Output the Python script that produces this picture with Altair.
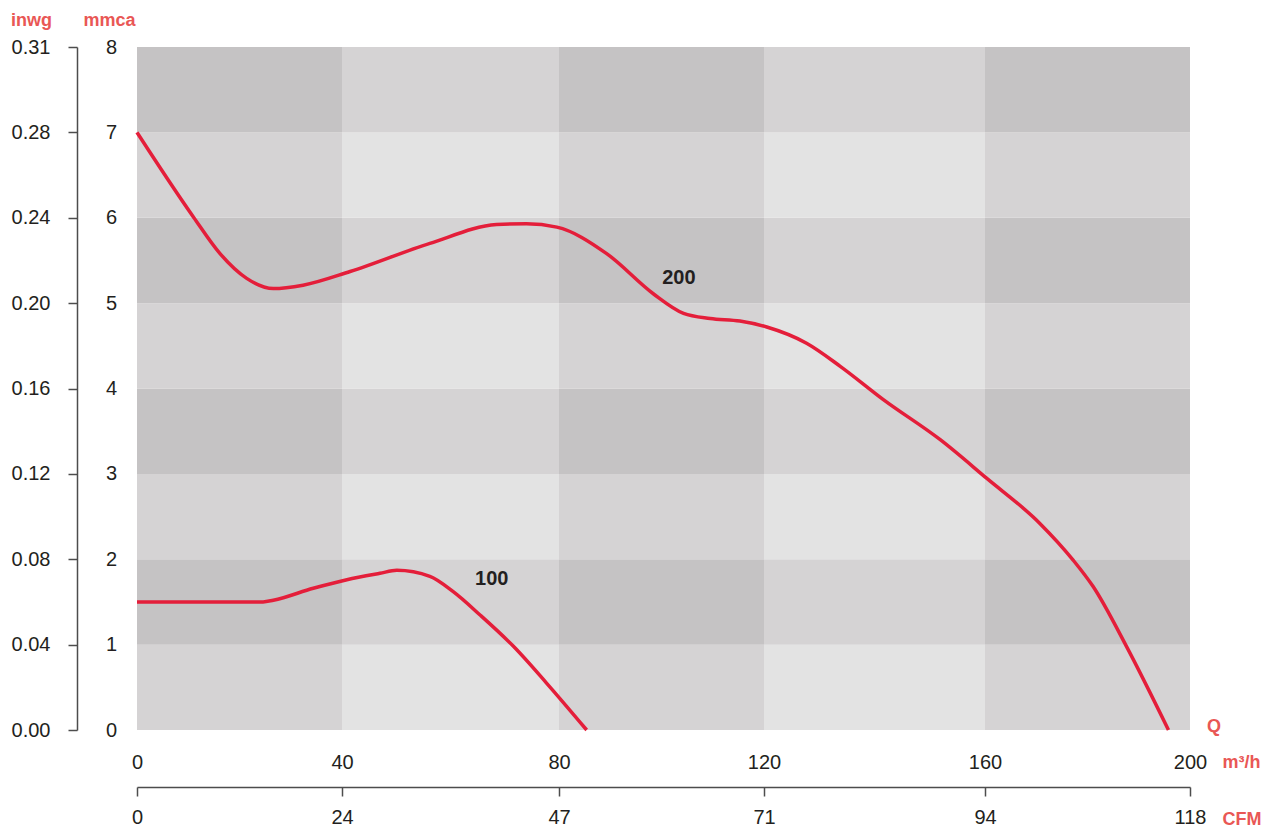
import altair as alt
import pandas as pd

# ---- data ----
q_ticks = [0, 40, 80, 120, 160, 200]            # m³/h
cfm_labels = ["0", "24", "47", "71", "94", "118"]  # CFM equivalents
p_ticks = [0, 1, 2, 3, 4, 5, 6, 7, 8]             # mmca
inwg_labels = ["0.00", "0.04", "0.08", "0.12", "0.16", "0.20", "0.24", "0.28", "0.31"]

# curve "200"
q200 = [0, 11.0, 16.2, 21.4, 26.6, 32.4, 41.5, 56.2, 68.5, 74.0, 79.6, 89.3, 98.4,
        104.3, 109.5, 115.3, 120.5, 127.7, 133.8, 141.6, 151.9, 160.3, 170.7, 177.2,
        181.1, 187.6, 195.8]
p200 = [7.00, 6.01, 5.58, 5.29, 5.17, 5.21, 5.37, 5.70, 5.92, 5.93, 5.89, 5.58, 5.11,
        4.88, 4.82, 4.79, 4.72, 4.53, 4.26, 3.87, 3.40, 2.95, 2.42, 1.99,
        1.68, 0.98, 0.0]
# curve "100"
q100 = [0, 24.6, 26.6, 34.4, 40.9, 47.0, 50.1, 56.2, 60.5, 65.4, 71.6, 77.7, 85.4]
p100 = [1.50, 1.50, 1.52, 1.66, 1.76, 1.835, 1.87, 1.80, 1.62, 1.35, 0.98, 0.55, 0.0]

# curve labels
lab_text = ["200", "100"]
lab_q = [103.4, 67.6]
lab_p = [5.29, 1.77]

shade_names = ["light", "medium", "dark"]
shade_colors = ["#e3e3e3", "#d5d3d4", "#c5c3c4"]

# ---- tables ----
cells = []
for r in range(len(p_ticks) - 1):
    for c in range(len(q_ticks) - 1):
        level = (r % 2) + (1 if c % 2 == 0 else 0)
        cells.append(dict(q0=q_ticks[c], q1=q_ticks[c + 1],
                          p0=p_ticks[r], p1=p_ticks[r + 1],
                          shade=shade_names[level]))
cells_df = pd.DataFrame(cells)

curve_df = pd.concat([
    pd.DataFrame(dict(q=q200, p=p200, series="200", order=range(len(q200)))),
    pd.DataFrame(dict(q=q100, p=p100, series="100", order=range(len(q100)))),
])
lab_df = pd.DataFrame(dict(q=lab_q, p=lab_p, label=lab_text))

# ---- styling ----
FONT = "Liberation Sans"
INK = "#231f20"
RED_TXT = "#e95755"
RED_LINE = "#e41e3a"
AX = "#4d4d4d"

x_scale = alt.Scale(domain=q_ticks, range=[0, 205, 422, 627, 848, 1053], nice=False)
y_scale = alt.Scale(domain=[0, 8], nice=False)

title_style = dict(titleFont=FONT, titleFontSize=18, titleFontWeight="bold",
                   titleColor=RED_TXT, titleAngle=0, titleBaseline="alphabetic")
label_style = dict(labelFont=FONT, labelFontSize=20, labelColor=INK, grid=False)

cfm_expr = "[" + ",".join("'%s'" % s for s in cfm_labels) + "][indexof([" + \
    ",".join(str(v) for v in q_ticks) + "], datum.value)]"
inwg_expr = "[" + ",".join("'%s'" % s for s in inwg_labels) + "][datum.value]"

axis_mmca = alt.Axis(orient="left", values=p_ticks, labelAlign="center", labelPadding=26,
                     ticks=False, tickSize=0, domain=False, title="mmca",
                     titleAlign="center", titleX=-28, titleY=-22,
                     **label_style, **title_style)
axis_inwg = alt.Axis(orient="left", offset=60, values=p_ticks, labelExpr=inwg_expr,
                     labelAlign="right", labelPadding=18, tickSize=9, tickWidth=1.5,
                     tickColor=AX, domainColor=AX, domainWidth=1.5, title="inwg",
                     titleAlign="center", titleX=-46, titleY=-22,
                     **label_style, **title_style)
axis_m3h = alt.Axis(orient="bottom", values=q_ticks, labelFlush=False, labelBaseline="middle",
                    labelPadding=32, ticks=False, tickSize=0, domain=False, title="m³/h",
                    titleAlign="left", titleX=1085, titleY=37,
                    **label_style, **title_style)
axis_cfm = alt.Axis(orient="bottom", offset=57, values=q_ticks, labelExpr=cfm_expr,
                    labelFlush=False, labelBaseline="middle", labelPadding=21,
                    tickSize=9, tickWidth=1.5, tickColor=AX, domainColor=AX, domainWidth=1.5,
                    title="CFM", titleAlign="left", titleX=1085, titleY=37,
                    **label_style, **title_style)
axis_q = alt.Axis(orient="right", labels=False, ticks=False, domain=False, grid=False,
                  title="Q", titleAlign="center", titleX=23.5, titleY=684, **title_style)

bg = alt.Chart(cells_df).mark_rect(strokeWidth=0).encode(
    x=alt.X("q0:Q", scale=x_scale, axis=axis_m3h),
    x2="q1:Q",
    y=alt.Y("p0:Q", scale=y_scale, axis=axis_mmca),
    y2="p1:Q",
    color=alt.Color("shade:N", scale=alt.Scale(domain=shade_names, range=shade_colors),
                    legend=None),
)

curves = alt.Chart(curve_df).mark_line(color=RED_LINE, strokeWidth=3.5,
                                        interpolate="monotone").encode(
    x=alt.X("q:Q", scale=x_scale, axis=axis_cfm),
    y=alt.Y("p:Q", scale=y_scale, axis=axis_inwg),
    detail="series:N",
    order="order:Q",
)

labels = alt.Chart(lab_df).mark_text(font=FONT, fontSize=20, fontWeight="bold",
                                      color=INK, baseline="middle", align="center").encode(
    x=alt.X("q:Q", scale=x_scale, axis=None),
    y=alt.Y("p:Q", scale=y_scale, axis=axis_q),
    text="label:N",
)

chart = alt.layer(bg, curves, labels).resolve_axis(
    x="independent", y="independent"
).properties(
    width=1053, height=683,
    autosize=alt.AutoSizeParams(type="none"),
    padding={"left": 129, "top": 39, "right": 72, "bottom": 97},
).configure_view(stroke=None)

chart.save("out.html", embed_options={"renderer": "svg", "actions": False})
